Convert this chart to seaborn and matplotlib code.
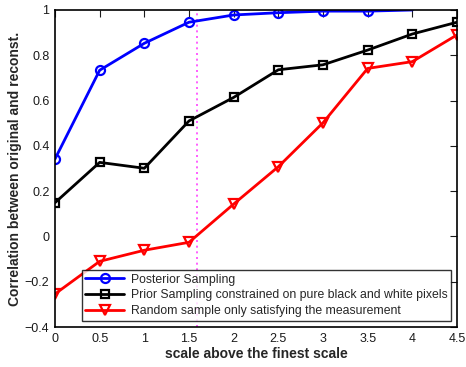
import numpy as np
import pandas as pd
import seaborn as sns
import matplotlib
matplotlib.use("Agg")
import matplotlib.pyplot as plt

# scale above the finest scale
scales = [0, 0.5, 1, 1.5, 2, 2.5, 3, 3.5, 4, 4.5]

posterior = [0.342, 0.734, 0.853, 0.946, 0.978, 0.988, 0.995, 0.995, 1.0]
prior_bw = [0.149, 0.327, 0.301, 0.510, 0.614, 0.736, 0.758, 0.823, 0.894, 0.946]
random_meas = [-0.254, -0.110, -0.061, -0.026, 0.143, 0.308, 0.502, 0.742, 0.772, 0.890]

labels = [
    "Posterior Sampling",
    "Prior Sampling constrained on pure black and white pixels",
    "Random sample only satisfying the measurement",
]
marker_line = np.log2(3)

sns.set_theme(style="white")
plt.rcParams["font.family"] = ["Liberation Sans", "DejaVu Sans"]
plt.rcParams["axes.unicode_minus"] = True

fig = plt.figure(figsize=(4.66, 3.67), dpi=100)
ax = fig.add_axes([55 / 466, 40 / 367, 402 / 466, 317 / 367])

series = [
    (posterior, "#0000ff", "o", labels[0]),
    (prior_bw, "#000000", "s", labels[1]),
    (random_meas, "#ff0000", "v", labels[2]),
]
for vals, color, mk, lab in series:
    df = pd.DataFrame({"scale": scales[: len(vals)], "corr": vals})
    n_marks = 8 if lab == labels[0] else len(vals)
    sns.lineplot(
        data=df, x="scale", y="corr", ax=ax, color=color, linewidth=2,
        marker=mk, markersize=6.5 if mk != "s" else 5.5, markerfacecolor="none",
        markeredgecolor=color, markeredgewidth=1.6, label=lab,
        markevery=list(range(n_marks)),
    )

ax.axvline(marker_line, color="#ff44ff", linestyle=(0, (1.2, 2.2)), linewidth=1.2, zorder=0)

ax.set_xlim(0, 4.5)
ax.set_ylim(-0.4, 1.0)
ax.set_xticks(scales)
ax.set_xticklabels(["0", "0.5", "1", "1.5", "2", "2.5", "3", "3.5", "4", "4.5"])
ax.set_yticks([-0.4, -0.2, 0, 0.2, 0.4, 0.6, 0.8, 1])
ax.set_yticklabels(["\u22120.4", "\u22120.2", "0", "0.2", "0.4", "0.6", "0.8", "1"])
ax.tick_params(direction="in", length=5, width=0.8, top=True, right=True,
               labelsize=9, colors="#1a1a1a", pad=4)
for s in ax.spines.values():
    s.set_color("black")
    s.set_linewidth(1.2)

ax.set_xlabel("scale above the finest scale", fontsize=10, fontweight="bold", labelpad=2)
ax.set_ylabel("Correlation between original and reconst.", fontsize=10,
              fontweight="bold", labelpad=2)

leg = ax.legend(loc="lower right", fontsize=8.8, frameon=True,
                fancybox=False, edgecolor="black", handlelength=3.2,
                borderpad=0.3, labelspacing=0.32, handletextpad=0.5,
                borderaxespad=0)
leg.get_frame().set_linewidth(1.0)
leg.set_bbox_to_anchor((451 / 466, (367 - 321) / 367), transform=fig.transFigure)

fig.savefig("out.png", dpi=100)
